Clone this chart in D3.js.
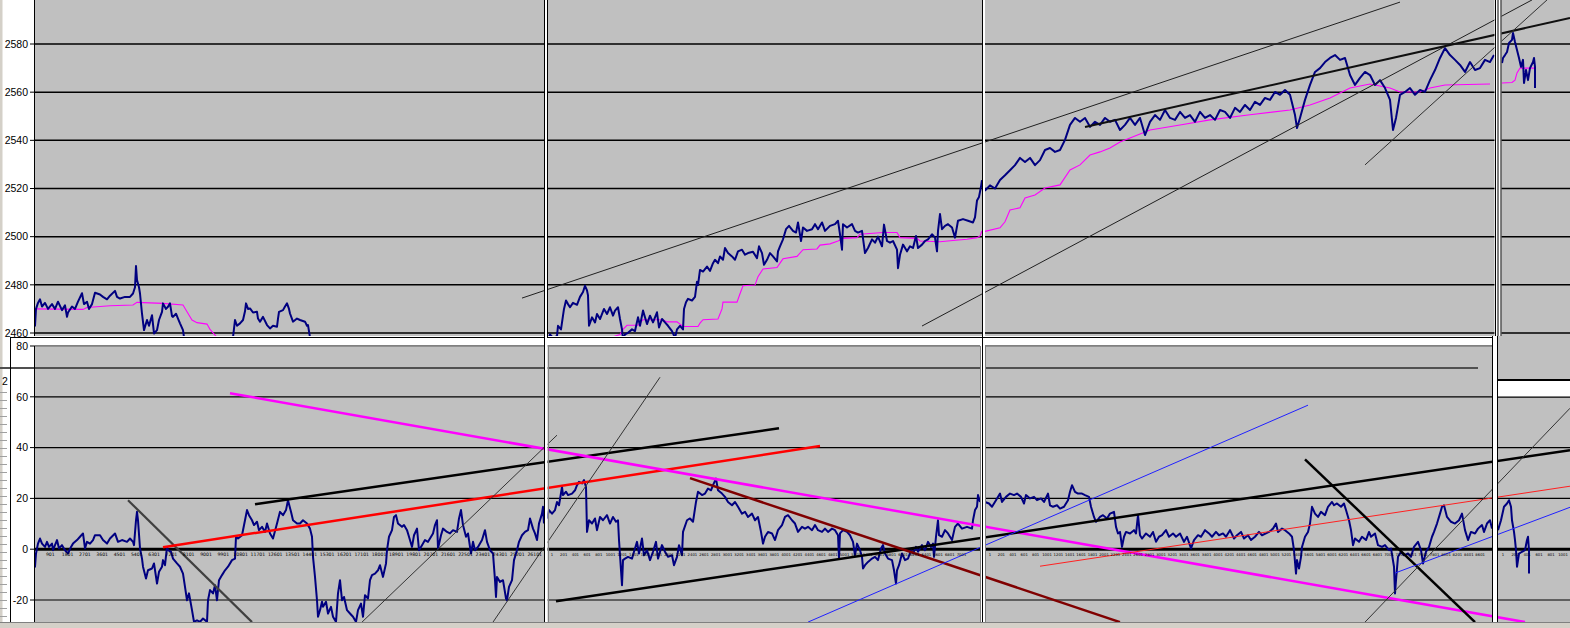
<!DOCTYPE html>
<html><head><meta charset="utf-8">
<script src="https://cdn.jsdelivr.net/npm/d3@7"></script>
<style>body{margin:0;background:#fff;overflow:hidden}svg{display:block}</style>
</head><body><svg id="c" width="1570" height="628"></svg>
<script>
// ---------- DATA ----------
const priceTicks=[2460,2480,2500,2520,2540,2560,2580];
const oscTicks=[-20,0,20,40,60,80];

// price (top panel), [bar, value]
const priceA=[[0,2468],[1,2463],[2,2470],[4,2472.5],[6,2474],[8,2471],[11,2472.5],[14,2470],[18,2472],[21,2470],[24,2473],[28,2469.5],[31,2471.5],[33,2466.7],[34,2468.5],[38,2471],[41,2470],[44,2473],[48,2476.5],[50,2472],[53,2473],[55,2470],[58,2472],[61,2476.7],[66,2476],[69,2475],[73,2474],[76,2475.5],[81,2477.5],[83,2475],[86,2474.3],[91,2475],[96,2475],[99,2476.4],[101,2479],[102,2487.8],[103,2482],[105,2479],[106,2476.4],[108,2468],[110,2461.2],[113,2465.4],[115,2463],[118,2467.4],[120,2459.8],[123,2461.2],[125,2465.4],[128,2468.8],[129,2472.3],[132,2470],[134,2470.9],[136,2472.3],[138,2467],[139,2466.7],[142,2468],[144,2466],[146,2464],[149,2461.2],[150,2458.2]];
const priceB=[[199,2458.2],[201,2465.4],[203,2463],[206,2464],[209,2465.4],[211,2469],[212,2472.3],[214,2470],[216,2470.2],[219,2468.5],[223,2468.8],[224,2466],[226,2464.7],[229,2466.7],[233,2463.3],[236,2461.9],[239,2463],[243,2462.6],[244,2466],[245,2468.8],[249,2469.5],[251,2471],[253,2472.3],[255,2470],[256,2468.1],[259,2464.7],[263,2466],[266,2465.4],[271,2464.7],[273,2463],[274,2463.3],[276,2458.2]];
const priceC=[[514,2457.3],[516,2459.4],[519,2458],[523,2458.7],[524,2463],[527,2461.5],[529,2467.2],[530,2470],[532,2473.5],[534,2472],[536,2470.7],[539,2472.5],[543,2471.7],[546,2475],[549,2477],[551,2479.6],[553,2477.7],[554,2475.6],[555,2463],[558,2466.5],[561,2464.4],[563,2467.9],[566,2465.8],[570,2470],[573,2467.9],[576,2470.7],[579,2467.2],[581,2469.3],[584,2470.7],[586,2465.8],[588,2461.5],[589,2457.3],[591,2459.4],[594,2460.1],[598,2461.5],[601,2460.8],[604,2466.5],[606,2463],[609,2469.3],[613,2463.7],[616,2467.2],[619,2464.4],[623,2468.6],[625,2462.3],[628,2465.8],[631,2464.4],[634,2463],[638,2460.8],[641,2458],[643,2461.5],[646,2463],[649,2461.5],[650,2470],[652,2472.8],[654,2474.2],[658,2473.5],[661,2475],[663,2481.3],[664,2479.9],[666,2486.2],[669,2485.5],[673,2487.6],[676,2485.8],[679,2489],[681,2490.4],[684,2489],[686,2491.8],[689,2490.4],[691,2495.3],[694,2493.2],[698,2491.8],[701,2490.4],[704,2493.9],[708,2494.6],[711,2492.5],[714,2493.2],[719,2493.7],[723,2491.1],[725,2496],[728,2493.2],[730,2488.3],[733,2490.4],[736,2493.2],[739,2491.8],[743,2489.7],[744,2493.9],[746,2496],[749,2498.9],[752,2503.1],[755,2504.5],[759,2502.4],[762,2501.7],[764,2505.9],[767,2498.2],[769,2503.8],[773,2502.4],[778,2503.1],[781,2505.2],[784,2503.1],[788,2505.9],[791,2502.4],[796,2504.5],[801,2505.2],[804,2506.6],[806,2501],[808,2494.6],[809,2505.2],[813,2503.8],[818,2505.2],[821,2502.4],[824,2501.7],[828,2502.4],[831,2493.2],[834,2495.3],[838,2498.9],[841,2497.5],[844,2500],[848,2496],[850,2505],[853,2498.2],[856,2497.5],[859,2498.2],[863,2494.6],[864,2486.9],[866,2492.5],[869,2496.7],[873,2493.9],[876,2496],[879,2495.3],[882,2500.3],[884,2495.3],[888,2496.7],[891,2498.2],[894,2498.9],[898,2501],[901,2499.6],[903,2493.9],[904,2502.4],[906,2509.4],[908,2503.1],[911,2504.5],[914,2505.2],[918,2503.8],[921,2499.6],[924,2506.6],[929,2507.3],[934,2506.6],[939,2505.9],[941,2508],[943,2515],[945,2516.5],[947,2520.7],[948,2523.5]];
const priceD=[[949,2521.5],[951,2519.2],[956,2521.3],[961,2520],[966,2523.5],[971,2525.5],[976,2527.6],[981,2529.7],[986,2532.7],[991,2531],[996,2532.7],[1001,2529.7],[1006,2531.8],[1011,2536],[1016,2536.8],[1021,2535.2],[1026,2536],[1031,2540.2],[1036,2546.4],[1041,2549.3],[1046,2547.7],[1051,2549.3],[1056,2545.6],[1061,2547.7],[1066,2546.4],[1071,2549.3],[1076,2547.7],[1081,2548.5],[1086,2544.3],[1091,2546.4],[1096,2549.3],[1101,2546.4],[1106,2549.3],[1111,2542.2],[1116,2547.7],[1121,2550.5],[1126,2548.5],[1131,2552.6],[1136,2549.3],[1141,2548.5],[1146,2551.8],[1151,2549.3],[1156,2550.5],[1161,2547.7],[1166,2551.8],[1171,2549.3],[1176,2550.5],[1181,2548.5],[1186,2552.6],[1191,2551.8],[1196,2549.3],[1201,2553.5],[1206,2551.8],[1211,2554.7],[1216,2552.6],[1221,2556],[1226,2554.7],[1231,2557.6],[1236,2556.8],[1241,2560.1],[1246,2558.9],[1251,2560.9],[1256,2558.9],[1261,2550.5],[1263,2545.1],[1266,2549.3],[1271,2556.8],[1276,2563],[1281,2568.4],[1286,2570],[1291,2572.5],[1296,2574.2],[1301,2575.4],[1306,2573.4],[1311,2574.2],[1316,2567.1],[1321,2563],[1326,2565.9],[1331,2568.4],[1336,2567.1],[1341,2563],[1346,2565],[1351,2561.7],[1356,2556.8],[1359,2544.3],[1362,2549.3],[1366,2558.9],[1371,2560.1],[1376,2561.7],[1381,2558.9],[1386,2560.9],[1391,2560.1],[1396,2565],[1401,2569.2],[1406,2574.2],[1411,2578.3],[1416,2575.4],[1421,2573.4],[1426,2571.3],[1431,2568.4],[1436,2572.5],[1441,2569.2],[1446,2570],[1451,2573.4],[1456,2572.5],[1460,2575.4]];
const priceE=[[1468,2572.1],[1469,2574.2],[1471,2575.4],[1473,2576.7],[1475,2580.4],[1478,2581.7],[1479,2584.6],[1481,2580.8],[1483,2577.5],[1485,2574.2],[1487,2570.5],[1489,2573.4],[1490,2563.8],[1492,2569.2],[1494,2565],[1496,2570],[1499,2572.5],[1500,2574.2],[1501,2570.5],[1501,2561.7]];

// moving average (magenta), [bar, value]
const maA=[[0,2470],[49,2469.8],[53,2470.6],[76,2471.3],[99,2471.6],[103,2472.7],[129,2472.3],[149,2471.6],[153,2468.8],[158,2465.4],[163,2464.3],[173,2463.7],[176,2461.5],[183,2458.2]];
const maC=[[571,2456.6],[576,2458],[586,2459.4],[589,2461.5],[593,2463.2],[604,2463.2],[609,2465.5],[629,2465.5],[633,2464.6],[643,2464.6],[649,2462.7],[664,2462.7],[666,2464.1],[669,2465.5],[684,2465.8],[688,2470],[689,2472.8],[703,2472.8],[706,2476.3],[709,2479.6],[721,2479.9],[724,2483.4],[729,2486.6],[743,2487.2],[746,2489],[749,2490.8],[763,2491.8],[769,2494.6],[783,2494.9],[786,2496.5],[796,2497],[804,2498.2],[809,2499.3],[823,2499.6],[826,2501],[849,2501.7],[863,2501.7],[866,2499.6],[883,2499.3],[886,2498.2],[906,2497.9],[919,2498.4],[933,2498.9],[943,2499.6],[946,2500.3],[948,2502.4]];
const maD=[[949,2502],[966,2503.7],[971,2506.2],[976,2511.1],[986,2512],[991,2516.1],[1001,2517.3],[1011,2520.2],[1026,2521.5],[1036,2527.7],[1046,2529.8],[1056,2533.9],[1066,2535.2],[1076,2536.8],[1086,2539.3],[1096,2541],[1116,2544.3],[1146,2546.4],[1176,2548.5],[1216,2550.6],[1256,2552.6],[1276,2554.7],[1296,2557.6],[1316,2561.7],[1336,2563.4],[1356,2561.7],[1366,2560.1],[1386,2560.1],[1396,2561.7],[1411,2563],[1456,2563.4]];
const maE=[[1468,2563.8],[1478,2564],[1481,2565],[1483,2568],[1486,2570],[1501,2570]];

// oscillator (bottom panel), [bar, value]
const osc1=[[0,-3.7],[1,-6.9],[2,-1.7],[4,2.2],[6,4.2],[8,2.2],[11,0.9],[13,2.9],[15,0.9],[18,2.2],[19,-0.4],[23,3.6],[25,0.3],[28,1.6],[31,-0.4],[34,-1.7],[37,0.9],[39,2.2],[43,3.6],[46,4.9],[49,6.2],[51,0.3],[53,2.9],[56,2.2],[59,3.6],[61,5.5],[66,5.5],[69,3.6],[73,2.2],[76,4.2],[81,6.2],[84,2.9],[88,3.6],[93,2.9],[96,4.2],[99,2.9],[100,1.6],[102,11.4],[103,14.7],[104,11.4],[106,0.3],[108,-3.7],[109,-6.9],[112,-11.5],[114,-8.3],[118,-7.6],[120,-5.6],[123,-13.5],[125,-8.9],[128,-6.9],[129,-4.3],[131,-6.3],[133,0.9],[134,-0.4],[137,-1.0],[139,-3.7],[143,-5.6],[146,-6.9],[149,-9.6],[151,-14.8],[153,-20.1],[155,-17.4],[158,-24],[160,-28.6],[163,-28],[166,-28.6],[169,-27.3],[173,-28.6],[174,-20.1],[176,-16.1],[179,-17.4],[181,-14.2],[183,-20.1],[185,-12.2],[188,-10.2],[191,-8.3],[194,-6.9],[198,-4.3],[201,-3.7],[202,4.9],[204,4.2],[208,5.5],[211,11.4],[213,15.4],[215,13.4],[218,11.4],[220,9.5],[223,10.8],[225,7.5],[228,8.8],[231,6.8],[233,10.1],[236,6.2],[239,4.2],[243,10.1],[246,14.7],[249,13.4],[252,15.4],[254,19.3],[257,14.7],[259,11.4],[263,10.1],[266,10.1],[269,11.4],[273,10.1],[276,8.1],[278,4.9],[279,-3],[281,-10.9],[283,-20.1],[284,-26.6],[286,-24],[288,-20.7],[289,-22.7],[292,-20.7],[294,-25.3],[297,-22.7],[299,-26.6],[302,-28.6],[304,-17.4],[306,-12.2],[308,-20.1],[310,-18.8],[313,-24],[316,-25.3],[319,-26.6],[322,-28.6],[324,-24],[327,-21.4],[329,-26.6],[331,-18.1],[334,-19.4],[336,-12.2],[338,-10.2],[341,-9.6],[344,-8.3],[346,-6.3],[349,-10.9],[352,-5.6],[353,-0.4],[355,4.9],[358,7.5],[360,12.7],[362,13.4],[364,10.1],[368,8.8],[370,9.5],[373,7.5],[375,4.9],[378,0.9],[380,5.5],[383,8.1],[385,-0.4],[388,1.6],[391,3.6],[394,2.9],[399,6.2],[401,9.5],[403,11.4],[404,0.3],[407,5.5],[409,8.1],[413,6.8],[416,6.2],[419,7.5],[423,6.8],[425,12.1],[427,15.4],[429,9.5],[432,4.9],[434,6.2],[437,-1.7],[439,2.9],[441,-0.4],[444,0.9],[448,3.6],[451,7.5],[453,2.9],[456,-0.4],[459,-1.7],[461,-12.2],[462,-18.8],[463,-10.9],[466,-12.9],[469,-12.2],[472,-19.4],[473,-20.1],[475,-14.8],[478,-12.2],[480,-4.3],[483,-0.4],[485,2.9],[488,5.5],[491,6.8],[494,7.5],[496,12.1],[499,8.1],[501,6.2],[503,3.6],[505,10.1],[508,14.0],[509,16.7],[510,10.1]];
const osc2=[[513,12.1],[515,15.4],[518,14.0],[521,15.4],[523,18.6],[525,17.3],[528,24.5],[529,21.3],[532,22.6],[534,21.3],[538,21.9],[541,23.2],[543,25.2],[545,26.5],[548,25.9],[550,27.2],[552,24.5],[553,6.8],[555,11.4],[558,10.1],[561,12.1],[563,7.5],[566,12.7],[569,11.4],[573,13.4],[576,10.1],[579,12.7],[582,10.8],[584,11.4],[585,3.6],[587,-8.3],[588,-14.2],[589,-4.3],[591,-3.7],[594,-3],[598,-3.7],[600,-1.0],[603,2.9],[605,-1.7],[608,4.2],[610,-2.4],[613,-0.4],[616,-4.3],[619,-1.0],[622,2.9],[624,-3.7],[628,1.6],[631,-1.0],[634,-3],[638,-2.4],[640,-6.3],[643,-3],[645,1.6],[648,-2.4],[649,6.8],[653,11.4],[656,12.1],[659,10.8],[662,18.6],[664,22.6],[668,21.3],[671,21.9],[674,23.9],[677,23.2],[679,25.2],[682,27.8],[684,23.2],[688,21.9],[691,20.6],[694,18.6],[698,17.3],[701,18.6],[704,16.7],[708,14.0],[711,14.7],[714,12.7],[718,14.0],[721,11.4],[724,12.7],[727,6.8],[729,2.2],[731,4.9],[734,6.8],[738,6.2],[741,3.6],[744,7.5],[748,9.5],[751,12.7],[754,13.4],[758,11.4],[761,10.1],[764,6.8],[768,8.8],[771,8.1],[774,8.8],[778,7.5],[781,9.5],[784,7.5],[788,6.8],[791,8.1],[794,6.8],[798,8.1],[801,7.5],[804,5.5],[805,-3.7],[806,6.2],[809,7.5],[813,6.8],[816,5.5],[819,2.9],[821,-2.4],[823,2.2],[826,-0.4],[828,-3],[829,-7.6],[831,-6.3],[834,-5],[838,-3.7],[841,-3],[844,-4.3],[847,0.3],[849,1.6],[851,-1.7],[854,-3.7],[858,-4.3],[860,-8.3],[862,-13.5],[863,-8.3],[865,-6.3],[868,-1.7],[871,-4.3],[874,-3.7],[877,-0.4],[879,-1.7],[882,0.9],[884,-1.0],[888,1.6],[891,-0.4],[894,2.9],[897,0.9],[899,2.2],[900,-3],[902,4.9],[904,11.4],[905,5.5],[908,4.9],[911,7.5],[914,6.2],[918,3.6],[921,8.8],[924,10.1],[928,8.1],[933,8.8],[938,8.1],[939,11.4],[941,15.4],[943,16.7],[944,21.3],[946,18.6]];
const osc3=[[951,18.6],[955,18],[958,16.7],[962,19.3],[966,21.9],[968,18.6],[972,20.6],[976,21.9],[980,21.3],[983,21.9],[987,20.6],[990,18],[992,21.3],[996,20],[1000,20.6],[1003,19.3],[1007,20],[1010,18.6],[1014,21.9],[1016,17.3],[1019,16.7],[1023,17.3],[1026,16],[1030,16.7],[1034,19.3],[1036,22.6],[1038,25.2],[1041,22.6],[1044,21.9],[1048,21.9],[1051,21.3],[1055,20.6],[1057,16.7],[1060,12.7],[1062,10.8],[1066,12.7],[1069,13.4],[1073,12.1],[1076,14],[1080,14.7],[1082,8.8],[1084,6.2],[1086,6.8],[1088,0.9],[1090,4.9],[1092,6.8],[1096,6.2],[1100,7.5],[1102,6.2],[1104,13.4],[1106,5.5],[1108,4.2],[1112,6.2],[1116,4.9],[1119,6.8],[1122,2.9],[1125,4.9],[1128,5.5],[1132,7.5],[1135,4.9],[1139,6.2],[1142,4.9],[1146,6.2],[1150,2.9],[1153,4.9],[1157,0.3],[1160,3.6],[1164,5.5],[1167,4.9],[1171,7.5],[1175,6.2],[1178,4.9],[1182,6.8],[1185,5.5],[1189,6.2],[1192,4.9],[1196,7.5],[1200,4.2],[1203,5.5],[1207,6.8],[1210,4.2],[1214,5.5],[1217,3.6],[1221,4.9],[1225,6.8],[1228,5.5],[1232,6.2],[1235,6.8],[1239,8.1],[1242,10.1],[1244,6.8],[1248,8.1],[1251,7.5],[1255,6.2],[1258,4.9],[1260,-0.4],[1262,-9.6],[1263,-4.3],[1265,-7.6],[1267,-3],[1268,0.9],[1271,4.9],[1274,6.8],[1276,10.1],[1278,16.7],[1281,14],[1284,12.7],[1287,14.7],[1291,13.4],[1294,16.7],[1298,18.6],[1300,17.3],[1303,18],[1307,16.7],[1310,18],[1312,15.4],[1315,11.4],[1317,7.5],[1319,1.6],[1321,4.2],[1325,2.9],[1328,4.9],[1332,3.6],[1335,6.8],[1337,4.9],[1341,6.2],[1344,1.6],[1348,0.9],[1351,1.6],[1355,-0.4],[1357,0.3],[1360,-6.9],[1361,-17.4],[1362,-12.2],[1364,-3],[1367,-1],[1370,-2.4],[1374,-1.7],[1377,-3],[1380,0.9],[1384,2.9],[1387,-0.4],[1389,-5.6],[1392,-1],[1395,0.9],[1398,4.9],[1400,6.8],[1403,10.1],[1406,14],[1408,16.7],[1410,17.3],[1413,12.7],[1417,10.8],[1421,10.1],[1425,11.4],[1428,14],[1431,7.5],[1434,3.6],[1437,6.8],[1441,6.2],[1444,8.1],[1448,9.5],[1450,6.8],[1453,10.1],[1456,11.4],[1458,8.1]];
const osc4=[[1464,7.5],[1467,11.4],[1470,16.7],[1473,18],[1475,19.3],[1477,16.7],[1478,11.4],[1480,6.8],[1481,3.6],[1482,-0.4],[1483,-6.9],[1485,-1.7],[1488,-1.0],[1491,-0.4],[1493,3.6],[1494,4.9],[1495,-0.4],[1495,-9.6]];

// trendlines [bar1, value1, bar2, value2]
const topLines=[[488,2474.5,1366,2597.4],[888,2462.9,1498,2598.3],[1051,2545.5,1536,2590.8],[1331,2529.8,1513,2598.3]];
const topLineStyle=[["#202020",1],["#202020",1],["#101010",2],["#303030",1]];
const botLines=[[94,19.3,218,-28.7],[129,0.8,786,40.6],[221,17.7,745,47.6],[196,61.4,1491,-28.7],[328,-28.7,523,44.9],[459,-28.7,626,67.7],[522,-20.5,1536,39],[656,28,1086,-28.7],[774,-28.7,1274,56.7],[1006,-6.7,1536,24.8],[1271,35.4,1441,-28.7],[1331,-28.7,1536,55.5],[1361,-9.4,1536,16.5]];
const botLineStyle=[["#404040",2.2],["#ff0000",2.5],["#000000",2.5],["#ff00ff",2.5],["#333333",1],["#333333",1],["#000000",2.5],["#800000",2.5],["#2020ff",1],["#ff2020",1],["#000000",2.5],["#333333",1],["#2020ff",1]];
const hLine=[-34,71.3,1444,71.3];

// small x-axis labels on the zero line
const sec1Labels=["901","1801","2701","3601","4501","5401","6301","7201","8101","9001","9901","10801","11701","12601","13501","14401","15301","16201","17101","18001","18901","19801","20701","21601","22501","23401","24301","25201","26101"];
const sec2Labels=["1","201","401","601","801","1001","1201","1401","1601","1801","2001","2201","2401","2601","2801","3001","3201","3401","3601","3801","4001","4201","4401","4601","4801","5001","5201","5401","5601","5801","6001","6201","6401","6601","6801","7001"];
const sec3Labels=["1","201","401","601","801","1001","1201","1401","1601","1801","2001","2201","2401","2601","2801","3001","3201","3401","3601","3801","4001","4201","4401","4601","4801","5001","5201","5401","5601","5801","6001","6201","6401","6601","6801","7001","7201","7401","7601","7801","8001","8201","8401","8601"];
const sec4Labels=["1","201","401","601","801","1001"];

// ---------- DRAW ----------
const svg=d3.select("#c");
const x=d3.scaleLinear().domain([0,1536]).range([34,1570]);
const yT=d3.scaleLinear().domain([2460,2580]).range([333,44]);
const yB=d3.scaleLinear().domain([-20,80]).range([600,346]);
const FONT="'Liberation Sans', Arial, sans-serif";

const defs=svg.append("defs");
const cT=defs.append("clipPath").attr("id","clipT");
cT.append("rect").attr("x",34).attr("y",0).attr("width",1536).attr("height",336);
cT.append("rect").attr("x",1497).attr("y",336).attr("width",73).attr("height",43);
const cB=defs.append("clipPath").attr("id","clipB");
cB.append("rect").attr("x",34).attr("y",346).attr("width",1464).attr("height",276);
cB.append("rect").attr("x",1497).attr("y",397).attr("width",73).attr("height",225);

// backgrounds
svg.append("rect").attr("x",0).attr("y",0).attr("width",1570).attr("height",628).attr("fill","#fff");
svg.append("rect").attr("x",0).attr("y",0).attr("width",2.5).attr("height",628).attr("fill","#d4d0c8");
svg.append("rect").attr("x",34).attr("y",0).attr("width",1536).attr("height",336).attr("fill","#c0c0c0");
svg.append("rect").attr("x",1497).attr("y",336).attr("width",73).attr("height",43).attr("fill","#c0c0c0");
svg.append("rect").attr("x",34).attr("y",346).attr("width",1464).attr("height",276).attr("fill","#c0c0c0");
svg.append("rect").attr("x",1497).attr("y",397).attr("width",73).attr("height",225).attr("fill","#c0c0c0");
svg.append("rect").attr("x",0).attr("y",622.5).attr("width",1570).attr("height",6).attr("fill","#d4d0c8");
svg.append("line").attr("x1",0).attr("x2",1570).attr("y1",622.5).attr("y2",622.5).attr("stroke","#808080");

// ruler marks on far left
const rul=svg.append("g");
d3.range(392,622,8).forEach(v=>rul.append("line").attr("x1",0).attr("x2",7).attr("y1",v+.5).attr("y2",v+.5).attr("stroke","#a0a0a0"));

// top grid
const gT=svg.append("g").attr("clip-path","url(#clipT)");
priceTicks.forEach(t=>gT.append("line").attr("x1",34).attr("x2",1570).attr("y1",yT(t)).attr("y2",yT(t)).attr("stroke","#000").attr("stroke-width",1.5));

// bottom grid
const gB=svg.append("g").attr("clip-path","url(#clipB)");
oscTicks.forEach(t=>{
  gB.append("line").attr("x1",34).attr("x2",1570).attr("y1",yB(t)).attr("y2",yB(t))
    .attr("stroke",t===80?"#808080":"#000").attr("stroke-width",t===0?3:(t===80?1.5:1.2));
});

// small x labels on zero line
const lbl=svg.append("g").attr("font-family","'DejaVu Sans',sans-serif").attr("fill","#000").attr("text-anchor","middle");
sec1Labels.forEach((s,i)=>lbl.append("text").attr("font-size",4.6).attr("x",x(16.3+17.3*i)).attr("y",556).text(s));
sec2Labels.forEach((s,i)=>lbl.append("text").attr("font-size",3.8).attr("x",x(518+11.7*i)).attr("y",556).text(s));
sec3Labels.forEach((s,i)=>lbl.append("text").attr("font-size",3.8).attr("x",x(956+11.4*i)).attr("y",556).text(s));
sec4Labels.forEach((s,i)=>lbl.append("text").attr("font-size",3.8).attr("x",x(1469+12*i)).attr("y",556).text(s));

// series
const lineT=d3.line().x(d=>x(d[0])).y(d=>yT(d[1]));
const lineB=d3.line().x(d=>x(d[0])).y(d=>yB(d[1]));
[maA,maC,maD,maE].forEach(s=>gT.append("path").attr("d",lineT(s)).attr("fill","none").attr("stroke","#ff00ff").attr("stroke-width",1.1));
[priceA,priceB,priceC,priceD,priceE].forEach(s=>gT.append("path").attr("d",lineT(s)).attr("fill","none").attr("stroke","#000080").attr("stroke-width",2).attr("stroke-linejoin","round"));
[osc1,osc2,osc3,osc4].forEach(s=>gB.append("path").attr("d",lineB(s)).attr("fill","none").attr("stroke","#000080").attr("stroke-width",2).attr("stroke-linejoin","round"));

// trendlines
topLines.forEach((l,i)=>gT.append("line").attr("x1",x(l[0])).attr("y1",yT(l[1])).attr("x2",x(l[2])).attr("y2",yT(l[3])).attr("stroke",topLineStyle[i][0]).attr("stroke-width",topLineStyle[i][1]));
botLines.forEach((l,i)=>gB.append("line").attr("x1",x(l[0])).attr("y1",yB(l[1])).attr("x2",x(l[2])).attr("y2",yB(l[3])).attr("stroke",botLineStyle[i][0]).attr("stroke-width",botLineStyle[i][1]));
svg.append("line").attr("x1",x(hLine[0])).attr("y1",yB(hLine[1])).attr("x2",x(hLine[2])).attr("y2",yB(hLine[3])).attr("stroke","#505050").attr("stroke-width",2);

// band between panels
svg.append("rect").attr("x",10).attr("y",336).attr("width",1487).attr("height",10).attr("fill","#fff");
svg.append("line").attr("x1",10).attr("x2",1497).attr("y1",337.5).attr("y2",337.5).attr("stroke","#000");
svg.append("line").attr("x1",34).attr("x2",1497).attr("y1",345.5).attr("y2",345.5).attr("stroke","#808080");
svg.append("line").attr("x1",10.5).attr("x2",10.5).attr("y1",337).attr("y2",622).attr("stroke","#000");

// right band
svg.append("rect").attr("x",1497).attr("y",379).attr("width",73).attr("height",18).attr("fill","#fff");
svg.append("line").attr("x1",1497).attr("x2",1570).attr("y1",380).attr("y2",380).attr("stroke","#000").attr("stroke-width",2);
svg.append("line").attr("x1",1497).attr("x2",1570).attr("y1",397).attr("y2",397).attr("stroke","#000").attr("stroke-width",1.2);
sec4Labels.forEach((s,i)=>lbl.append("text").attr("font-size",3.8).attr("x",1503+11.7*i).attr("y",389).text(s));

// separators
function vline(xp,y1,y2,c,w){svg.append("line").attr("x1",xp).attr("x2",xp).attr("y1",y1).attr("y2",y2).attr("stroke",c).attr("stroke-width",w||1);}
svg.append("rect").attr("x",544.5).attr("y",0).attr("width",3).attr("height",622).attr("fill","#fff");
vline(544.5,0,622,"#000");vline(547.5,0,338,"#000");vline(548.5,346,622,"#808080");
svg.append("rect").attr("x",980).attr("y",338).attr("width",5).attr("height",284).attr("fill","#fff");
svg.append("rect").attr("x",983).attr("y",0).attr("width",2).attr("height",336).attr("fill","#fff");
vline(982.5,0,622,"#000");vline(980.5,346,622,"#808080");vline(985.5,346,622,"#808080");
svg.append("rect").attr("x",1494.5).attr("y",0).attr("width",7).attr("height",336).attr("fill","#fff");
vline(1495.5,0,336,"#000");vline(1498,0,336,"#000");vline(1501,0,336,"#000");
svg.append("rect").attr("x",1492.5).attr("y",336).attr("width",4.5).attr("height",286).attr("fill","#fff");
vline(1492.5,336,622,"#000");vline(1497.5,336,622,"#000");

// axes (left)
vline(34.5,0,336,"#000");vline(34.5,346,622,"#000");
const ax=svg.append("g").attr("font-family",FONT).attr("font-size",10.5).attr("fill","#000").attr("text-anchor","end");
priceTicks.forEach(t=>{
  svg.append("line").attr("x1",30).attr("x2",34).attr("y1",yT(t)).attr("y2",yT(t)).attr("stroke","#000");
  ax.append("text").attr("x",28).attr("y",yT(t)).attr("dy","0.36em").text(t);
});
oscTicks.forEach(t=>{
  svg.append("line").attr("x1",30).attr("x2",34).attr("y1",yB(t)).attr("y2",yB(t)).attr("stroke","#000");
  ax.append("text").attr("x",28).attr("y",yB(t)).attr("dy","0.36em").text(t);
});
svg.append("text").attr("x",2).attr("y",385).attr("font-family",FONT).attr("font-size",10.5).text("2");
</script></body></html>
